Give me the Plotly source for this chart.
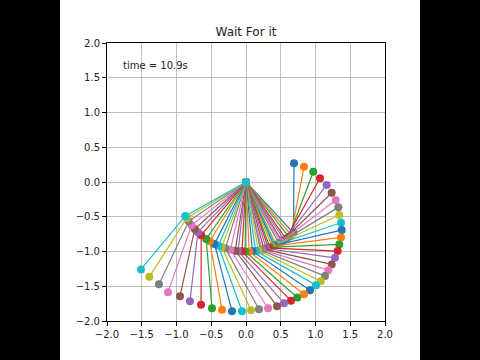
import plotly.graph_objects as go

# Second bob (end of pendulum) positions
x2 = [0.691, 0.835, 0.968, 1.065, 1.161, 1.233, 1.291, 1.328, 1.342, 1.367,
      1.377, 1.367, 1.342, 1.319, 1.281, 1.233, 1.184, 1.137, 1.075, 1.007,
      0.921, 0.835, 0.738, 0.647, 0.547, 0.446, 0.317, 0.187, 0.072, -0.058,
      -0.201, -0.345, -0.489, -0.647, -0.806, -0.950, -1.122, -1.252, -1.391, -1.511]
y2 = [0.269, 0.220, 0.148, 0.053, -0.043, -0.154, -0.259, -0.365, -0.476, -0.586,
      -0.692, -0.797, -0.898, -0.994, -1.091, -1.186, -1.268, -1.354, -1.427, -1.484,
      -1.556, -1.614, -1.661, -1.707, -1.744, -1.787, -1.816, -1.830, -1.844, -1.859,
      -1.859, -1.837, -1.816, -1.765, -1.715, -1.643, -1.585, -1.470, -1.365, -1.258]
# First bob positions, estimated
x1 = [0.683, 0.647, 0.616, 0.575, 0.550, 0.520, 0.497, 0.472, 0.436, 0.420,
      0.402, 0.376, 0.343, 0.320, 0.290, 0.258, 0.228, 0.210, 0.179, 0.137,
      0.093, 0.046, -0.012, -0.058, -0.114, -0.155, -0.224, -0.297, -0.349, -0.397,
      -0.453, -0.522, -0.573, -0.644, -0.692, -0.737, -0.783, -0.824, -0.853, -0.873]
y1 = [-0.731, -0.762, -0.788, -0.818, -0.835, -0.855, -0.868, -0.882, -0.900, -0.908,
      -0.916, -0.927, -0.939, -0.947, -0.957, -0.966, -0.974, -0.978, -0.984, -0.991,
      -0.996, -0.999, -1.000, -0.998, -0.994, -0.988, -0.975, -0.955, -0.937, -0.918,
      -0.891, -0.853, -0.820, -0.765, -0.722, -0.676, -0.623, -0.566, -0.522, -0.488]
pivot_x = 0.0
pivot_y = 0.0

tick_vals = [-2.0, -1.5, -1.0, -0.5, 0.0, 0.5, 1.0, 1.5, 2.0]
tick_text = ["\u22122.0", "\u22121.5", "\u22121.0", "\u22120.5", "0.0", "0.5", "1.0", "1.5", "2.0"]
title_text = "Wait For it"
time_label = "time = 10.9s"

colors = ['#1f77b4', '#ff7f0e', '#2ca02c', '#d62728', '#9467bd',
          '#8c564b', '#e377c2', '#7f7f7f', '#bcbd22', '#17becf']

fig = go.Figure()
for i in range(len(x2)):
    c = colors[i % len(colors)]
    fig.add_trace(go.Scatter(
        x=[pivot_x, x1[i], x2[i]], y=[pivot_y, y1[i], y2[i]],
        mode="lines+markers",
        line=dict(color=c, width=1.2),
        marker=dict(color=c, size=8),
        showlegend=False, hoverinfo="skip"))

axis_common = dict(
    range=[-2, 2], tickvals=tick_vals, ticktext=tick_text,
    showgrid=True, gridcolor="#b0b0b0", gridwidth=0.8,
    showline=True, linecolor="black", linewidth=1, mirror=True,
    ticks="outside", ticklen=4, tickcolor="black", tickwidth=1,
    tickfont=dict(family="DejaVu Sans", size=10, color="#222222"),
    zeroline=False, fixedrange=True)

fig.update_layout(
    width=480, height=360,
    margin=dict(l=107, r=95, t=43, b=39),
    paper_bgcolor="white", plot_bgcolor="white",
    xaxis=axis_common,
    yaxis=axis_common,
    title=dict(text=title_text, x=0.5, xref="paper", y=1 - 32 / 360, yanchor="middle",
               xanchor="center",
               font=dict(family="DejaVu Sans", size=12, color="#222222")),
    annotations=[dict(x=-1.8, y=1.67, xref="x", yref="y", text=time_label,
                      showarrow=False, xanchor="left", yanchor="middle",
                      font=dict(family="DejaVu Sans", size=10, color="#222222"))],
    shapes=[
        dict(type="rect", xref="paper", yref="paper", x0=-0.5, x1=-0.169, y0=-0.5, y1=1.5,
             fillcolor="black", line=dict(width=0), layer="above"),
        dict(type="rect", xref="paper", yref="paper", x0=1.126, x1=1.6, y0=-0.5, y1=1.5,
             fillcolor="black", line=dict(width=0), layer="above"),
    ],
)

fig.write_html("out.html",
               config={"displayModeBar": False, "staticPlot": True},
               post_script="document.body.style.margin='0';document.body.style.padding='0';")
